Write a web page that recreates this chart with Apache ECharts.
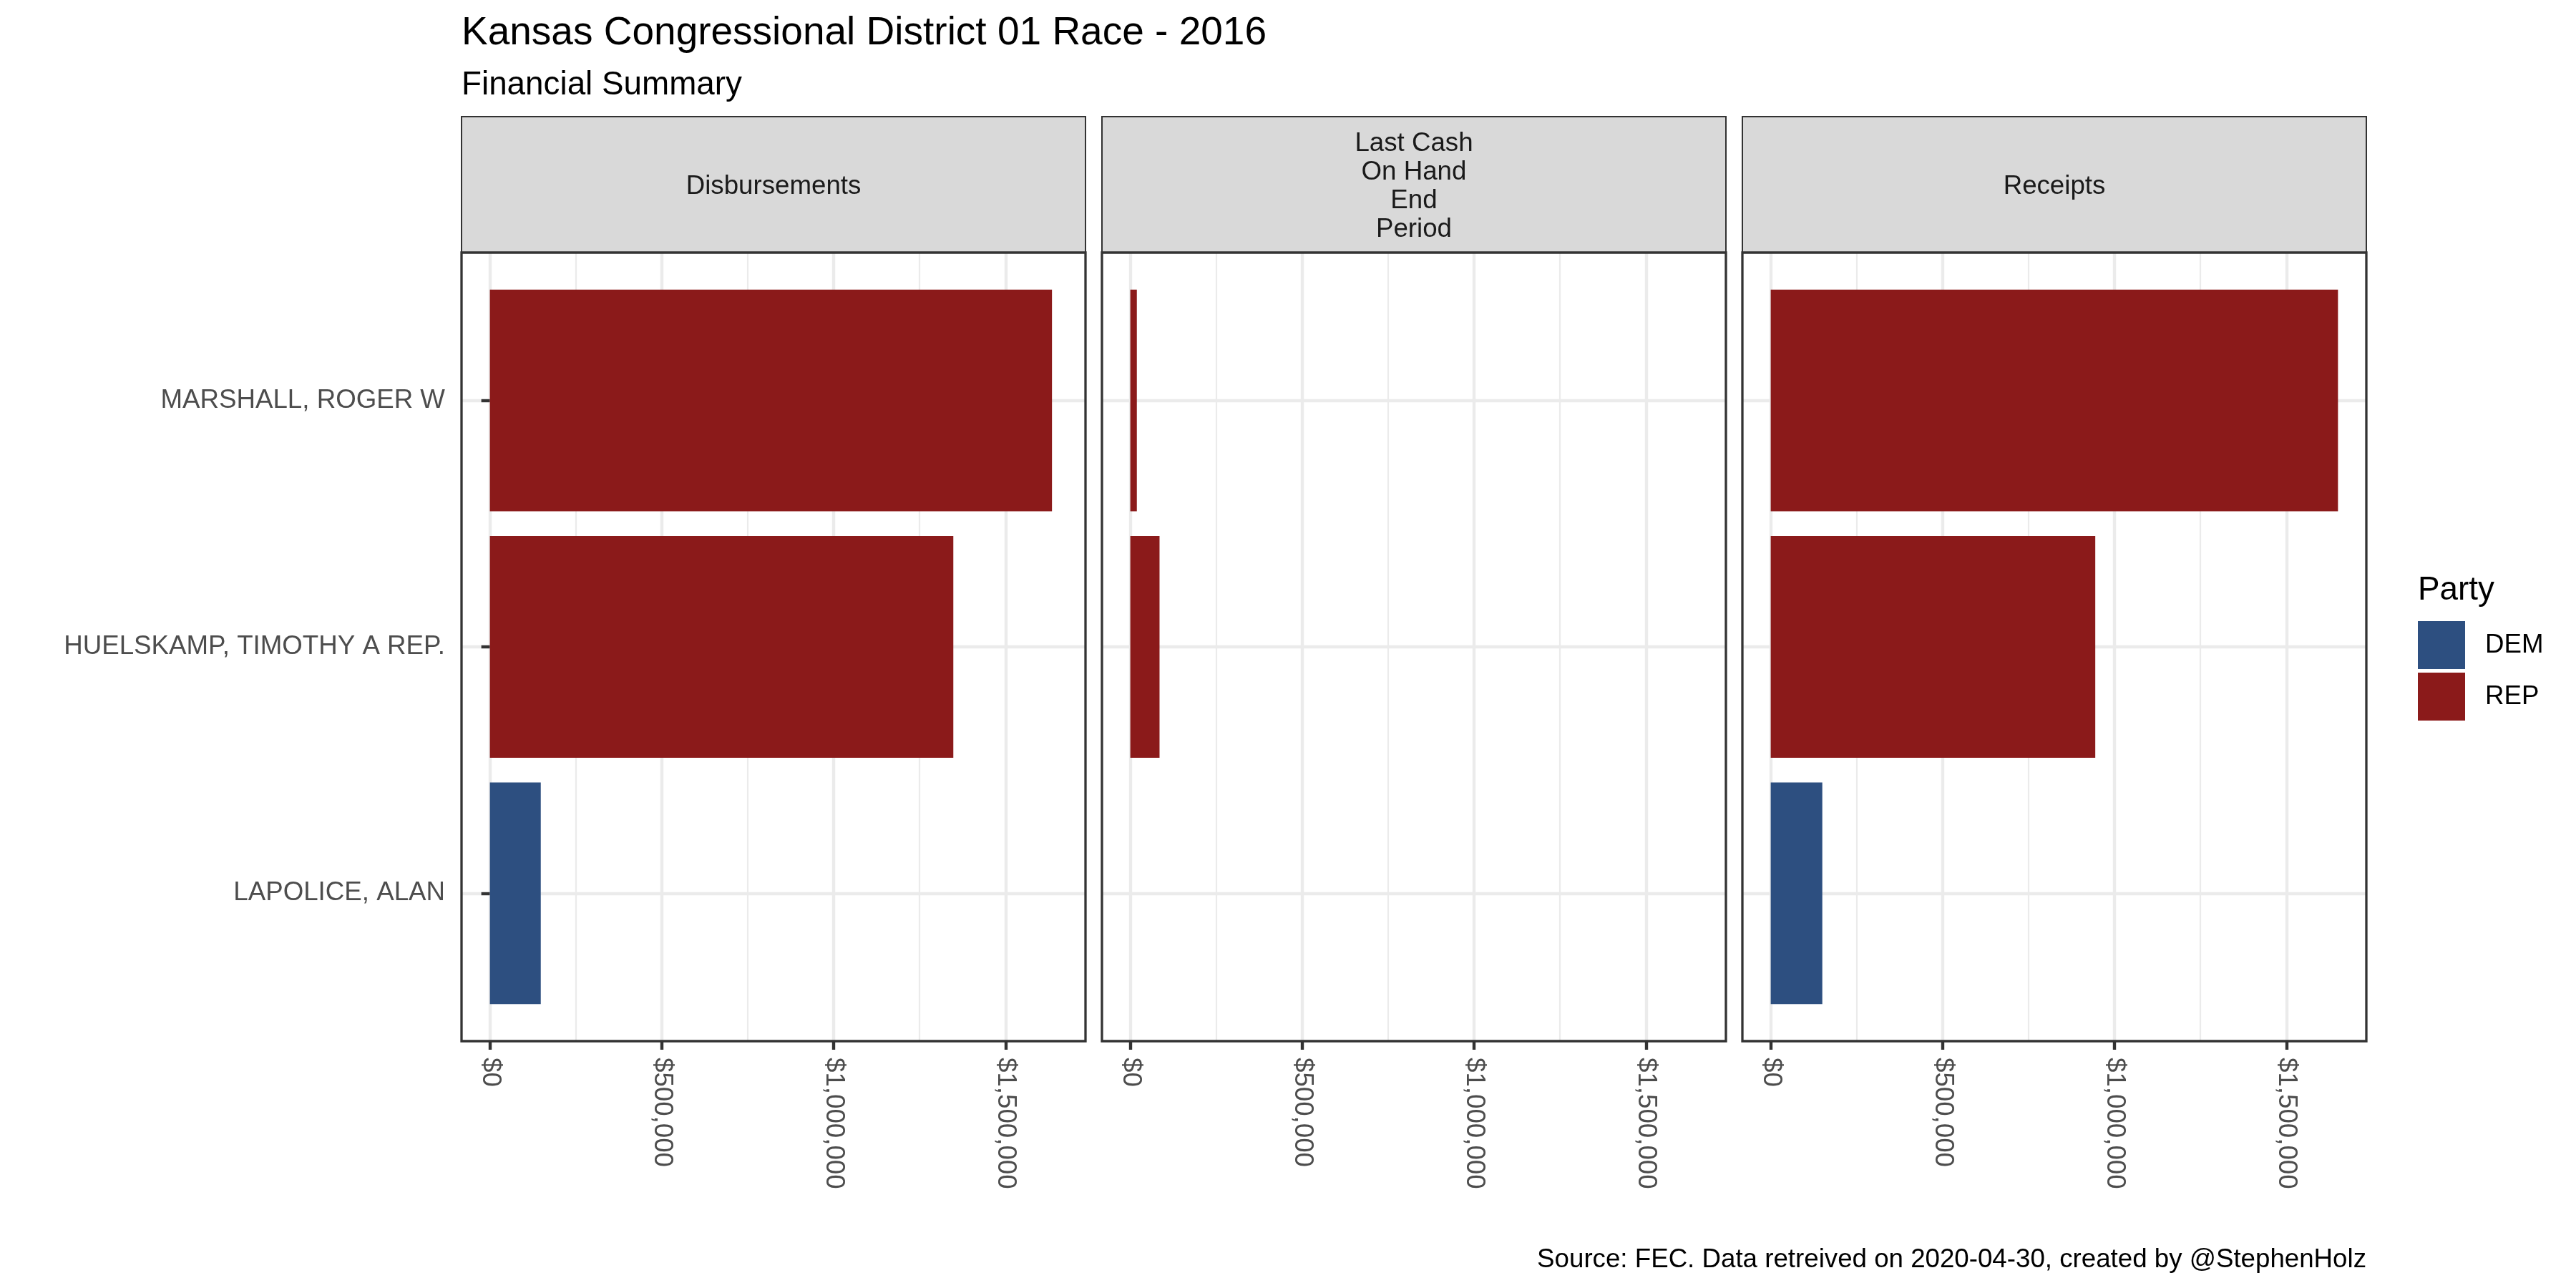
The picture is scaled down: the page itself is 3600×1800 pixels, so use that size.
<!DOCTYPE html>
<html><head><meta charset="utf-8">
<script src="https://cdn.jsdelivr.net/npm/echarts@6/dist/echarts.min.js"></script>
<style>html,body{margin:0;padding:0;background:#fff}#c{width:3600px;height:1800px}</style>
</head><body><div id="c"></div>
<script>
// ---- data ----
const candidates = ['MARSHALL, ROGER W', 'HUELSKAMP, TIMOTHY A REP.', 'LAPOLICE, ALAN'];
const party = ['REP', 'REP', 'DEM'];
const facets = ['Disbursements', 'Last Cash\nOn Hand\nEnd\nPeriod', 'Receipts'];
const disbursements = [1635000, 1348000, 148000];
const cashOnHand = [19000, 85000, 0];
const receipts = [1650000, 944000, 150000];
const tickValues = [0, 500000, 1000000, 1500000];
const partyNames = ['DEM', 'REP'];
const partyColors = { DEM: '#2D4F80', REP: '#8B1A1A' };
const titleText = 'Kansas Congressional District 01 Race - 2016';
const subtitleText = 'Financial Summary';
const captionText = 'Source: FEC. Data retreived on 2020-04-30, created by @StephenHolz';
const legendTitle = 'Party';

// ---- layout ----
const FONT = '"Liberation Sans", Arial, sans-serif';
const panelL = [645, 1540, 2435], panelW = 872;
const panelTop = 353, panelBot = 1455, stripTop = 163;
const H = panelBot - panelTop;
const facetValues = [disbursements, cashOnHand, receipts];
const vmax = Math.max(...disbursements, ...cashOnHand, ...receipts);
const lo = -0.05 * vmax, hi = 1.05 * vmax;
const ppu = panelW / (hi - lo);
const fmt = v => '$' + Math.round(v).toLocaleString('en-US');

const grids = [], xAxes = [], yAxes = [], series = [], graphics = [];
facets.forEach((f, i) => {
  const L = panelL[i];
  // bar grid (category band positions as ggplot discrete scale)
  grids.push({ left: L, width: panelW, top: panelTop + 0.6 / 3.2 * H, height: 2 / 3.2 * H, containLabel: false, outerBoundsMode: 'none' });
  // scale grid (ticks / vertical grid lines)
  const aL = L + (tickValues[0] - lo) * ppu;
  const aR = L + (tickValues[tickValues.length - 1] - lo) * ppu;
  grids.push({ left: aL, width: aR - aL, top: panelTop, height: H, containLabel: false, outerBoundsMode: 'none' });

  xAxes.push({ gridIndex: 2 * i, type: 'value', min: lo, max: hi, show: false });
  yAxes.push({
    gridIndex: 2 * i, type: 'category', data: candidates, inverse: true, boundaryGap: false,
    axisLine: { show: false },
    axisTick: { show: i === 0, length: 12, lineStyle: { color: '#333333', width: 4.4 } },
    axisLabel: { show: i === 0, interval: 0, margin: 23, fontSize: 36.7, color: '#4D4D4D', fontFamily: FONT, padding: [5, 0, 0, 0] },
    splitLine: { show: true, lineStyle: { color: '#EBEBEB', width: 4.4 } }
  });
  xAxes.push({
    gridIndex: 2 * i + 1, type: 'value', position: 'bottom',
    min: tickValues[0], max: tickValues[tickValues.length - 1], interval: tickValues[1] - tickValues[0],
    axisLine: { show: false },
    axisTick: { show: true, length: 12, lineStyle: { color: '#333333', width: 4.4 } },
    axisLabel: { show: true, rotate: -90, margin: 23, fontSize: 36.7, color: '#4D4D4D', fontFamily: FONT, formatter: fmt },
    splitLine: { show: true, lineStyle: { color: '#EBEBEB', width: 4.4 } },
    minorTick: { show: false, splitNumber: 2 },
    minorSplitLine: { show: true, lineStyle: { color: '#EBEBEB', width: 2.2 } }
  });
  yAxes.push({ gridIndex: 2 * i + 1, type: 'value', min: 0, max: 1, show: false });

  partyNames.forEach(p => {
    series.push({
      type: 'bar', name: p, xAxisIndex: 2 * i, yAxisIndex: 2 * i,
      data: candidates.map((c, j) => party[j] === p ? facetValues[i][j] : '-'),
      barWidth: '90%', barGap: '-100%', clip: false, silent: true, z: 2,
      itemStyle: { color: partyColors[p] }
    });
  });

  graphics.push({ type: 'rect', z: 100, silent: true,
    shape: { x: L, y: panelTop, width: panelW, height: H },
    style: { fill: 'none', stroke: '#333333', lineWidth: 3.3 } });
  graphics.push({ type: 'rect', z: 99, silent: true,
    shape: { x: L, y: stripTop, width: panelW, height: panelTop - stripTop },
    style: { fill: '#D9D9D9', stroke: '#333333', lineWidth: 2 } });
  graphics.push({ type: 'text', z: 101, silent: true, x: L + panelW / 2, y: (stripTop + panelTop) / 2 + 3,
    style: { text: f, fill: '#1A1A1A', fontSize: 36.7, fontFamily: FONT, lineHeight: 40, align: 'center', verticalAlign: 'middle' } });
});

graphics.push({ type: 'text', silent: true, x: 645, y: 47,
  style: { text: titleText, fill: '#000', fontSize: 55, fontFamily: FONT, align: 'left', verticalAlign: 'middle' } });
graphics.push({ type: 'text', silent: true, x: 645, y: 119,
  style: { text: subtitleText, fill: '#000', fontSize: 45.8, fontFamily: FONT, align: 'left', verticalAlign: 'middle' } });
graphics.push({ type: 'text', silent: true, x: 3307, y: 1761,
  style: { text: captionText, fill: '#000', fontSize: 36.7, fontFamily: FONT, align: 'right', verticalAlign: 'middle' } });
graphics.push({ type: 'text', silent: true, x: 3379, y: 825,
  style: { text: legendTitle, fill: '#000', fontSize: 45.8, fontFamily: FONT, align: 'left', verticalAlign: 'middle' } });

const chart = echarts.init(document.getElementById('c'), null, { renderer: 'canvas' });
chart.setOption({
  animation: false,
  backgroundColor: '#ffffff',
  grid: grids, xAxis: xAxes, yAxis: yAxes, series,
  legend: {
    data: partyNames, left: 3379, top: 868, orient: 'vertical', padding: 0,
    itemWidth: 66, itemHeight: 67, itemGap: 5, icon: 'rect', selectedMode: false,
    itemStyle: { borderWidth: 0 },
    textStyle: { fontSize: 36.7, color: '#000', fontFamily: FONT, padding: [3, 0, 0, 23] }
  },
  graphic: { elements: graphics }
});
</script></body></html>
